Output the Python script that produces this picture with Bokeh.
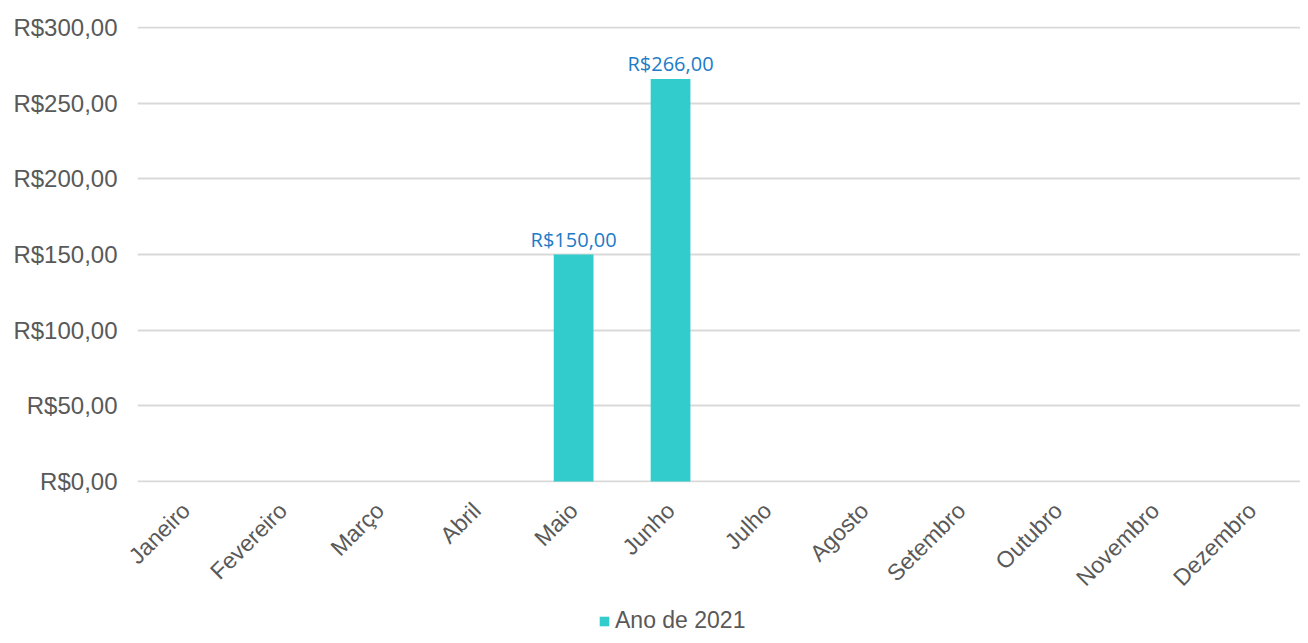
from bokeh.plotting import figure
from bokeh.layouts import column
from bokeh.models import ColumnDataSource, Range1d, FixedTicker, LabelSet, Legend, LegendItem
from bokeh.core.properties import value
from bokeh.embed import file_html
from bokeh.resources import INLINE
from math import pi

months = ["Janeiro", "Fevereiro", "Março", "Abril", "Maio", "Junho",
          "Julho", "Agosto", "Setembro", "Outubro", "Novembro", "Dezembro"]
values = [0, 0, 0, 0, 150, 266, 0, 0, 0, 0, 0, 0]
series_name = "Ano de 2021"
y_ticks = [0, 50, 100, 150, 200, 250, 300]

BAR_COLOR = "#33CCCC"
TEXT_COLOR = "#595959"


def brl(v):
    return "R$" + f"{v:.2f}".replace(".", ",")


y_tick_labels = {t: brl(t) for t in y_ticks}

src = ColumnDataSource(dict(month=months, value=values))
lab_months = [m for m, v in zip(months, values) if v]
lab_values = [v for v in values if v]
lab_src = ColumnDataSource(dict(month=lab_months, value=lab_values,
                                text=[brl(v) for v in lab_values]))

p = figure(x_range=months, y_range=Range1d(-0.6, 300.6),
           width=1300, height=602, output_backend="svg", toolbar_location=None,
           min_border_left=137, min_border_top=26, min_border_right=0,
           min_border_bottom=120)
p.outline_line_color = None
p.background_fill_color = "white"
p.border_fill_color = "white"

p.vbar(x="month", top="value", width=0.41, source=src,
       fill_color=BAR_COLOR, line_color=None)

labels = LabelSet(x="month", y="value", text="text", source=lab_src,
                  text_align="center", text_baseline="bottom", y_offset=2,
                  text_color="#1E7BC6", text_font=value("Open Sans"),
                  text_font_size="20px")
p.add_layout(labels)

# axes
p.yaxis.ticker = FixedTicker(ticks=y_ticks)
p.yaxis.major_label_overrides = y_tick_labels
p.yaxis.axis_line_color = None
p.yaxis.major_tick_line_color = None
p.yaxis.minor_tick_line_color = None
p.yaxis.major_label_text_font = "Liberation Sans"
p.yaxis.major_label_text_font_size = "24px"
p.yaxis.major_label_text_color = TEXT_COLOR
p.yaxis.major_label_standoff = 14

p.xaxis.axis_line_color = None
p.xaxis.major_tick_line_color = None
p.xaxis.minor_tick_line_color = None
p.xaxis.major_label_orientation = pi / 4
p.xaxis.major_label_text_font = "Liberation Sans"
p.xaxis.major_label_text_font_size = "23px"
p.xaxis.major_label_text_color = TEXT_COLOR
p.xaxis.major_label_standoff = 18

p.xgrid.grid_line_color = None
p.ygrid.grid_line_color = "#D9D9D9"
p.ygrid.grid_line_width = 2

# legend strip
lg = figure(width=1300, height=33, output_backend="svg", toolbar_location=None,
            min_border=0, x_range=(0, 1), y_range=(0, 1))
lg.outline_line_color = None
lg.axis.visible = False
lg.grid.visible = False
dummy = lg.vbar(x=[-5], top=[-5], width=0.1,
                fill_color=BAR_COLOR, line_color=None)
legend = Legend(items=[LegendItem(label=series_name, renderers=[dummy])],
                orientation="horizontal", location=(461, 1),
                border_line_color=None, background_fill_alpha=0,
                label_text_font="Liberation Sans", label_text_font_size="23px",
                label_text_color=TEXT_COLOR, glyph_width=12, glyph_height=12,
                label_standoff=5, padding=0, margin=0)
lg.add_layout(legend)

layout = column(p, lg, spacing=0)
open("out.html", "w").write(file_html(layout, INLINE))
